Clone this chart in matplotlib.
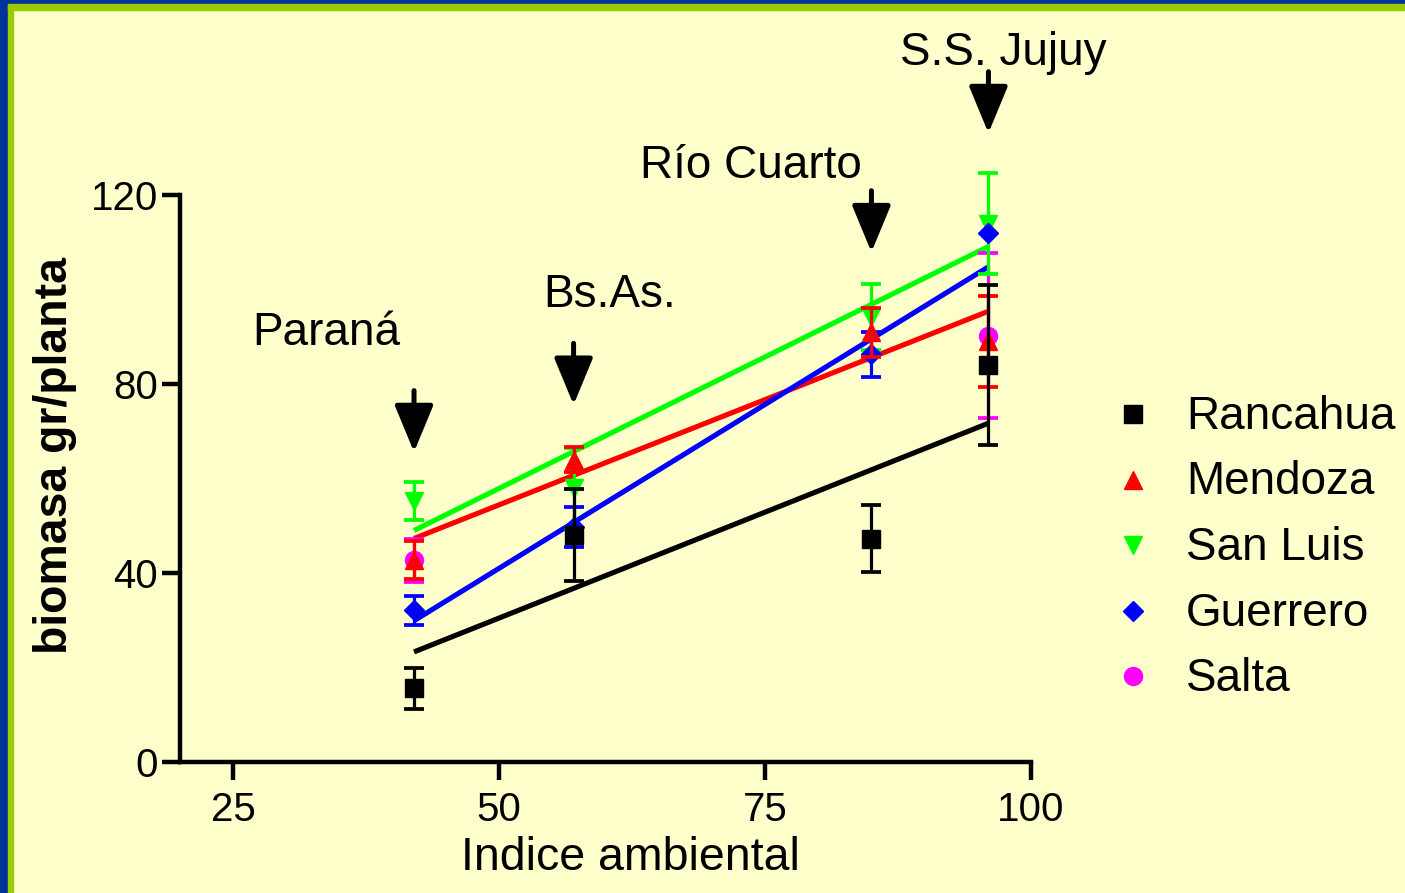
import numpy as np
import matplotlib
matplotlib.use("Agg")
import matplotlib.pyplot as plt
from matplotlib.patches import Rectangle
from matplotlib.lines import Line2D

plt.rcParams['font.family'] = ['Liberation Sans', 'DejaVu Sans']

# sites (arrows) and environmental index
sites = ['Paraná', 'Bs.As.', 'Río Cuarto', 'S.S. Jujuy']
indice = [42, 57, 85, 96]

# cultivar means and error bars
names = ['Rancahua', 'Mendoza', 'San Luis', 'Guerrero', 'Salta']
rancahua = [15.6, 48.0, 47.3, 84.0]
rancahua_err = [4.4, 9.7, 7.0, 17.0]
mendoza = [42.8, 64.0, 90.9, 89.0]
mendoza_err = [4.0, 2.7, 5.1, 9.7]
san_luis = [55.2, 58.0, 94.2, 113.9]
san_luis_err = [4.0, 8.5, 6.9, 10.7]
guerrero = [32.1, 49.7, 86.3, 111.9]
guerrero_err = [3.0, 4.3, 4.8, np.nan]
salta = [42.7, np.nan, np.nan, 90.2]
salta_err = [4.5, np.nan, np.nan, 17.5]

# regression lines (value at first and last index), Salta has none
fit_start = [23.3, 47.3, 49.0, 29.9]
fit_end = [71.7, 95.4, 109.1, 104.8]

colors = ['black', '#FF0000', '#00FF00', '#0000FF', '#FF00FF']
markers = ['s', '^', 'v', 'D', 'o']
msizes = [13, 13, 13, 10.5, 13]

means = [rancahua, mendoza, san_luis, guerrero, salta]
errs = [rancahua_err, mendoza_err, san_luis_err, guerrero_err, salta_err]

bg = '#FFFFCC'
fig = plt.figure(figsize=(14.05, 8.93), dpi=100, facecolor=bg)
ax = fig.add_axes([180/1405, 131/893, 851/1405, 756/893])
ax.set_facecolor('none')

# lines
for i in range(4):
    ax.plot([indice[0], indice[-1]], [fit_start[i], fit_end[i]],
            color=colors[i], lw=3.7, zorder=2, solid_capstyle='butt')

# points with error bars, drawing order like the original
order = [4, 2, 3, 1, 0]
for k, i in enumerate(order):
    ax.errorbar(indice, means[i], yerr=errs[i], fmt=markers[i], color=colors[i],
                ms=msizes[i], mec=colors[i], elinewidth=2.3, capsize=7, capthick=2.7,
                zorder=3 + k)

# arrows and site names
arrow_tip = [65.6, 75.6, 107.9, 133.1]
label_pos = [(33.8, 88.3), (60.4, 96.3), (73.7, 123.6), (97.4, 147.5)]
for s, xv, tip, (lx, ly) in zip(sites, indice, arrow_tip, label_pos):
    ax.annotate('', xy=(xv, tip), xytext=(xv, tip + 13),
                arrowprops=dict(arrowstyle='-|>,head_length=1.45,head_width=0.6',
                                lw=3.6, color='black', shrinkA=0, shrinkB=0,
                                mutation_scale=20))
    ax.text(lx, ly, s, fontsize=33, ha='center', va='baseline')

ax.set_xlim(20, 100)
ax.set_ylim(0, 160)
ax.set_xticks([25, 50, 75, 100])
ax.set_yticks([0, 40, 80, 120])
ax.spines['top'].set_visible(False)
ax.spines['right'].set_visible(False)
ax.spines['left'].set_bounds(0, 120)
for sp in ['left', 'bottom']:
    ax.spines[sp].set_linewidth(3.2)
ax.tick_params(width=3.2, length=13, labelsize=29)
ax.tick_params(axis='x', pad=8)
ax.tick_params(axis='y', pad=3)

fig.text(630/1405, 1 - 858/893, 'Indice ambiental', fontsize=33.5, ha='center', va='center')
fig.text(55/1405, 1 - 455/893, 'biomasa gr/planta', fontsize=33.4, fontweight='bold',
         rotation=90, ha='center', va='center')

# legend, built by hand
for i, n in enumerate(names):
    yy = 1 - (414 + i*65.5)/893
    fig.add_artist(Line2D([1133/1405], [yy], marker=markers[i], color=colors[i],
                          ms=msizes[i], linestyle='none', transform=fig.transFigure))
    fig.text(1186/1405, yy - 3/893, n, fontsize=33, ha='left', va='center')

# border on left and top
fig.add_artist(Rectangle((0, 0), 8/1405, 1, color='#003399', transform=fig.transFigure, zorder=10))
fig.add_artist(Rectangle((8/1405, 0), 5/1405, 1 - 4/893, color='#99CC00', transform=fig.transFigure, zorder=10))
fig.add_artist(Rectangle((0, 1 - 4/893), 1, 4/893, color='#003399', transform=fig.transFigure, zorder=10))
fig.add_artist(Rectangle((8/1405, 1 - 10/893), 1, 6/893, color='#99CC00', transform=fig.transFigure, zorder=10))

fig.savefig('out.png', dpi=100, facecolor=bg)
